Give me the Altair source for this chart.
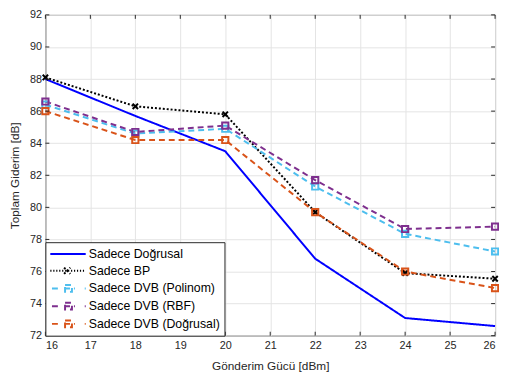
import altair as alt
import pandas as pd

x_vals = [16, 18, 20, 22, 24, 26]
sadece_dogrusal = [88.0, 85.7, 83.5, 76.8, 73.1, 72.6]
sadece_bp = [88.1, 86.3, 85.8, 79.7, 75.9, 75.55]
dvb_polinom = [86.4, 84.6, 84.9, 81.3, 78.35, 77.25]
dvb_rbf = [86.6, 84.7, 85.1, 81.7, 78.65, 78.8]
dvb_dogrusal = [86.0, 84.2, 84.2, 79.7, 76.0, 74.97]

series_names = ["Sadece Doğrusal", "Sadece BP", "Sadece DVB (Polinom)",
                "Sadece DVB (RBF)", "Sadece DVB (Doğrusal)"]
series_values = [sadece_dogrusal, sadece_bp, dvb_polinom, dvb_rbf, dvb_dogrusal]
colors = ["#0000FF", "#000000", "#4DBEEE", "#7E2F8E", "#D95319"]
dashes = [[1, 0], [2, 2], [6, 4], [6, 4], [6, 4]]

x_ticks = list(range(16, 27))
y_ticks = list(range(72, 93, 2))

rows = []
for name, vals in zip(series_names, series_values):
    for xv, yv in zip(x_vals, vals):
        rows.append({"x": xv, "y": yv, "series": name})
df = pd.DataFrame(rows)

W, H = 457, 326
FONT = "Liberation Sans"
TXT = "#262626"

# legend symbol paths: 1 unit = 7 px (symbolSize 196), spanning -1 .. 4.14
dash_sq = ("M-0.76,0H0.33M1.0,0H2.57"
           "M1.14,-0.5H2.14V0.5H1.14Z"
           "M4.0,0H4.14")
dots = "".join(f"M{(-1 + i * 0.43):.2f},0h0.17" for i in range(12))
bp_sym = dots + "M1.0,-0.45L1.9,0.45M1.0,0.45L1.9,-0.45"
legend_shapes = ["M-1,0H4.14", bp_sym, dash_sq, dash_sq, dash_sq]

xs = alt.Scale(domain=[16, 26], nice=False)
ys = alt.Scale(domain=[72, 92], nice=False)
cscale = alt.Scale(domain=series_names, range=colors)

x_axis = alt.Axis(values=x_ticks, title="Gönderim Gücü [dBm]", grid=True, ticks=False,
                  domain=False, labelPadding=4, titlePadding=10, labelOverlap=False)
y_axis = alt.Axis(values=y_ticks, title="Toplam Giderim [dB]", grid=True, ticks=False,
                  domain=False, labelPadding=4, titlePadding=8, labelOverlap=False)

X = alt.X("x:Q", scale=xs, axis=x_axis)
Y = alt.Y("y:Q", scale=ys, axis=y_axis)
C = alt.Color("series:N", scale=cscale)

base = alt.Chart(df)

lines = base.mark_line(strokeWidth=2).encode(
    x=X, y=Y, color=C,
    strokeDash=alt.StrokeDash("series:N", scale=alt.Scale(domain=series_names, range=dashes),
                              legend=None),
)

bp_pts = base.transform_filter(alt.datum.series == "Sadece BP").mark_point(
    shape="M-1,-1L1,1M-1,1L1,-1", size=30, strokeWidth=2, filled=False, opacity=1
).encode(x=X, y=Y, color=C)

sq_pts = base.transform_filter(
    (alt.datum.series != "Sadece BP") & (alt.datum.series != "Sadece Doğrusal")
).mark_point(shape="square", size=40, strokeWidth=2, filled=False, opacity=1).encode(
    x=X, y=Y, color=C)

legend_layer = base.mark_point(opacity=0, filled=False).encode(
    x=X, y=Y,
    color=alt.Color("series:N", scale=cscale,
                    legend=alt.Legend(title=None, orient="bottom-left", offset=0,
                                      symbolOpacity=1, symbolStrokeWidth=2,
                                      symbolSize=196, labelFontSize=12.5, labelFont=FONT,
                                      labelColor="#000000", strokeColor="#262626",
                                      fillColor="#ffffff", padding=4, rowPadding=2,
                                      labelOffset=24, labelLimit=300)),
    shape=alt.Shape("series:N", scale=alt.Scale(domain=series_names, range=legend_shapes)),
)

tick_df = pd.DataFrame({"xt": x_ticks})
ytick_df = pd.DataFrame({"yt": y_ticks})
tick_color = "#262626"
xb = alt.Chart(tick_df).mark_rule(color=tick_color, strokeWidth=1).encode(
    x=alt.X("xt:Q", scale=xs, axis=x_axis), y=alt.value(H), y2=alt.value(H - 4))
xt = alt.Chart(tick_df).mark_rule(color=tick_color, strokeWidth=1).encode(
    x=alt.X("xt:Q", scale=xs, axis=x_axis), y=alt.value(0), y2=alt.value(4))
yl = alt.Chart(ytick_df).mark_rule(color=tick_color, strokeWidth=1).encode(
    y=alt.Y("yt:Q", scale=ys, axis=y_axis), x=alt.value(0), x2=alt.value(4))
yr = alt.Chart(ytick_df).mark_rule(color=tick_color, strokeWidth=1).encode(
    y=alt.Y("yt:Q", scale=ys, axis=y_axis), x=alt.value(W), x2=alt.value(W - 4))

chart = alt.layer(lines, bp_pts, sq_pts, legend_layer, xb, xt, yl, yr).properties(
    width=W, height=H,
    autosize=alt.AutoSizeParams(type="none"),
    padding={"left": 38, "top": 4, "right": 4, "bottom": 40},
).configure_view(stroke="#262626", strokeWidth=1).configure_axis(
    labelFont=FONT, titleFont=FONT, labelFontSize=11, titleFontSize=12,
    labelColor=TXT, titleColor=TXT, titleFontWeight="normal",
    gridColor="#e3e3e3", gridWidth=1,
)

chart.save("out.html", embed_options={"renderer": "svg", "actions": False})
